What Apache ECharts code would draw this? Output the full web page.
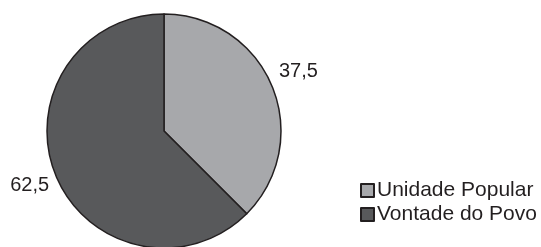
<!DOCTYPE html>
<html>
<head>
<meta charset="utf-8">
<script src="https://cdn.jsdelivr.net/npm/echarts@6/dist/echarts.min.js"></script>
<style>
html,body{margin:0;padding:0;background:#fff;}
#c{width:541px;height:247px;}
</style>
</head>
<body>
<div id="c"></div>
<script>
const categories = ['Unidade Popular', 'Vontade do Povo'];
const values = [37.5, 62.5];
const labels = ['37,5', '62,5'];
const colors = ['#a7a8ab', '#58595b'];
const labelShiftY = [-14, 9];

const chart = echarts.init(document.getElementById('c'), null, {renderer: 'canvas'});
chart.setOption({
  animation: false,
  backgroundColor: '#ffffff',
  legend: {
    orient: 'vertical',
    left: 355,
    top: 175,
    icon: 'rect',
    itemWidth: 13,
    itemHeight: 13,
    itemGap: 3,
    selectedMode: false,
    textStyle: {fontFamily: 'Liberation Sans', fontSize: 21, color: '#231f20', padding: [0,0,0,-2]},
    data: categories
  },
  series: [{
    type: 'pie',
    center: [164, 131],
    radius: 117,
    startAngle: 90,
    clockwise: true,
    avoidLabelOverlap: false,
    itemStyle: {borderColor: '#231f20', borderWidth: 1.5},
    label: {
      show: true,
      position: 'outside',
      fontFamily: 'Liberation Sans',
      fontSize: 20,
      color: '#231f20',
      formatter: p => labels[p.dataIndex]
    },
    labelLine: {show: false, length: 2, length2: 0},
    labelLayout: p => ({dy: labelShiftY[p.dataIndex]}),
    emphasis: {disabled: true},
    data: categories.map((n, i) => ({name: n, value: values[i], itemStyle: {color: colors[i]}}))
  }]
});
</script>
</body>
</html>
